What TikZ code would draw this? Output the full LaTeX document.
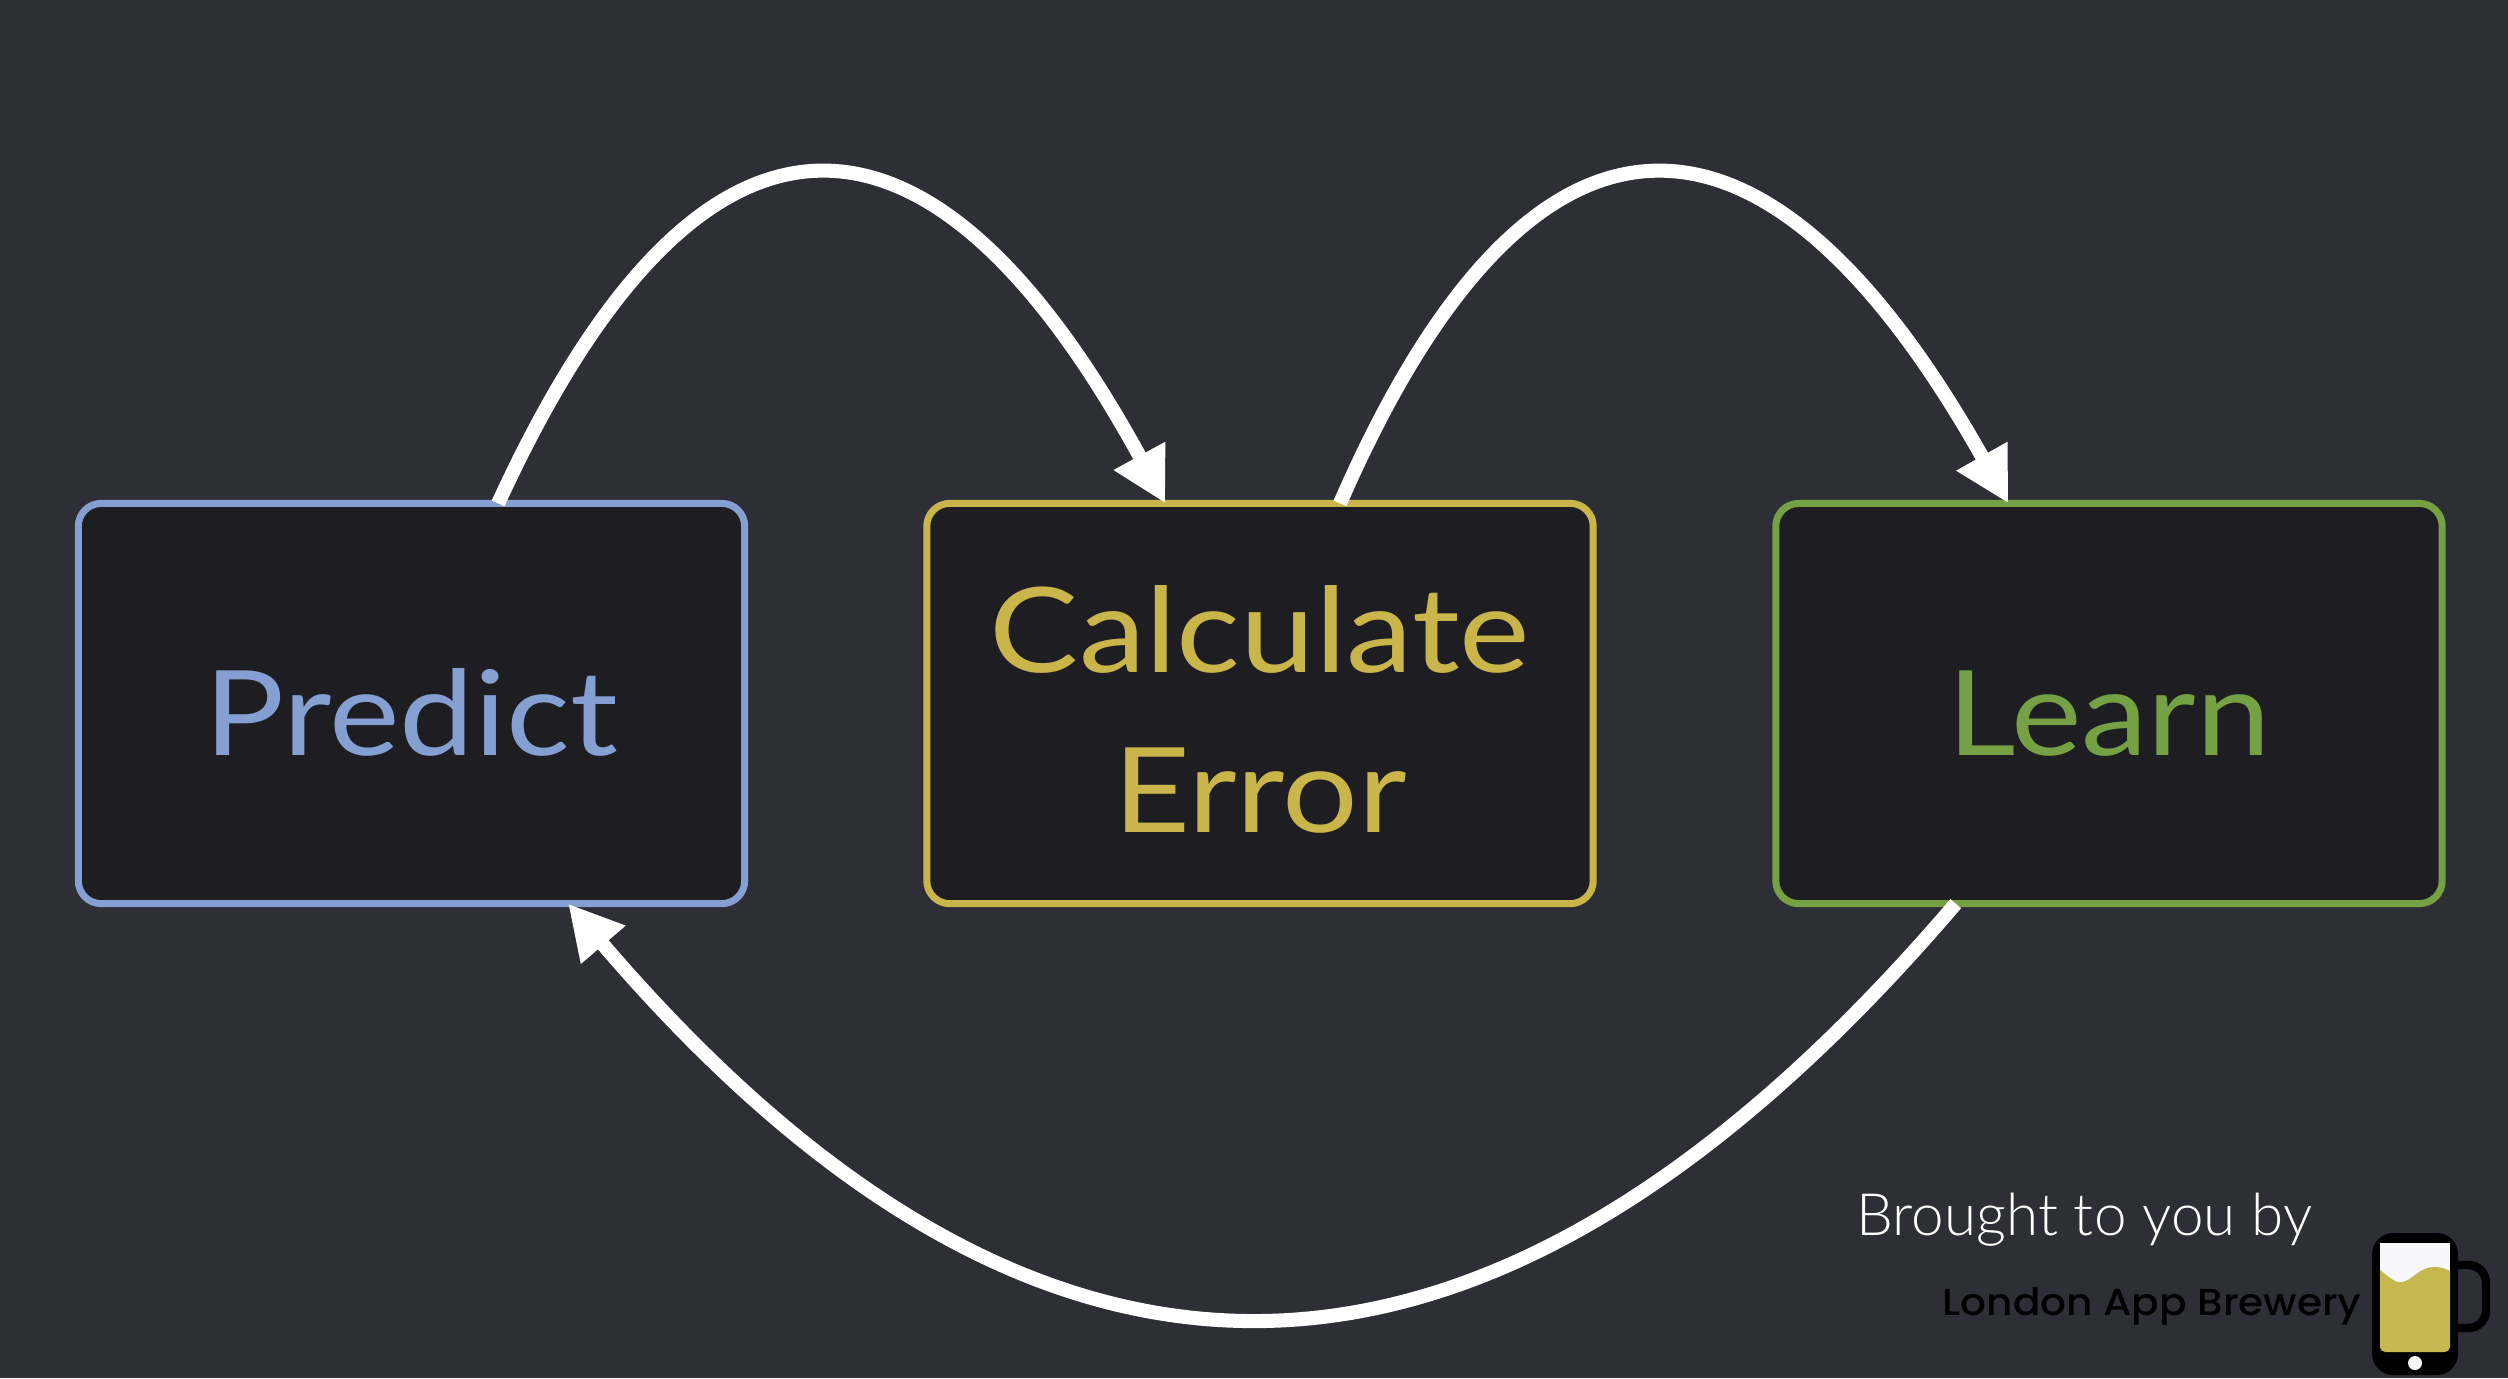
\documentclass[tikz,border=0pt]{standalone}
\usepackage{fontspec}
\setmainfont{Lato}[FakeStretch=1.13]
\newfontfamily\lightfont{Lato Light}
\newfontfamily\brandfont{Poppins Medium}[FakeStretch=1.08]
\usetikzlibrary{arrows.meta,calc}
\definecolor{bgc}{HTML}{2E2F36}
\definecolor{boxc}{HTML}{1E1E22}
\definecolor{bluec}{HTML}{859FD3}
\definecolor{yellowc}{HTML}{C9B54A}
\definecolor{greenc}{HTML}{76A044}
\definecolor{beerc}{HTML}{C6B84F}
\definecolor{foamc}{HTML}{F8F7FA}
\tikzset{
  stagebox/.style={draw=#1,text=#1,fill=boxc,line width=2pt,rounded corners=6.5pt,
    minimum width=6.66cm,minimum height=4cm,inner sep=0pt,outer sep=0pt,align=center,
    font=\fontsize{33.6}{39}\selectfont},
  flow/.style={white,line width=4pt,-{Triangle[length=15.4pt,width=15.6pt]}},
}
\begin{document}
\begin{tikzpicture}[x=0.01cm,y=-0.01cm]
\useasboundingbox (0,0) rectangle (2508,1378);
\fill[bgc] (0,0) rectangle (2508,1378);
\node[stagebox=bluec] (predict) at (411.5,703.5) {\raisebox{0pt}[29.3pt][0pt]{Predict}};
\node[stagebox=yellowc] (calc) at (1260,703.5) {\raisebox{0pt}[73.2pt][0pt]{\shortstack[c]{Calculate\\[18pt]Error}}};
\node[stagebox=greenc] (learn) at (2109,703.5) {\raisebox{0pt}[29.3pt][0pt]{Learn}};
\draw[flow] ($(predict.north west)!0.63!(predict.north east)$) .. controls +(200,-436) and +(-238,-436) .. ($(calc.north west)!0.358!(calc.north east)$);
\draw[flow] ($(calc.north west)!0.62!(calc.north east)$) .. controls +(190,-436) and +(-245,-436) .. ($(learn.north west)!0.349!(learn.north east)$);
\draw[flow] ($(learn.south west)!0.27!(learn.south east)$) .. controls +(-470,550) and +(470,550) .. ($(predict.south west)!0.735!(predict.south east)$);
\node[anchor=base west,text=white,inner sep=0pt,font=\lightfont\fontsize{16.6}{20}\selectfont] (brought) at (1856,1235) {Brought to you by};
\node[anchor=base west,text=black,inner sep=0pt,font=\brandfont\fontsize{10.7}{12}\selectfont] (brand) at (1942,1315) {London App Brewery};
% mug logo
\draw[black,line width=2.4pt,rounded corners=5pt] (2450,1265) -- (2486,1265) -- (2486,1328) -- (2450,1328);
\fill[black,rounded corners=6pt] (2372,1233) rectangle (2458,1375);
\fill[foamc] (2380,1243) rectangle (2450,1290);
\fill[beerc] (2380,1270) .. controls (2388,1276) and (2394,1283) .. (2402,1282) .. controls (2412,1281) and (2420,1266) .. (2435,1267) .. controls (2442,1267) and (2446,1269) .. (2450,1271) -- (2450,1348) [rounded corners=1.5pt] -- (2450,1352) -- (2380,1352) -- (2380,1348) [sharp corners] -- cycle;
\fill[foamc] (2415,1363) circle (7);
\end{tikzpicture}
\end{document}
